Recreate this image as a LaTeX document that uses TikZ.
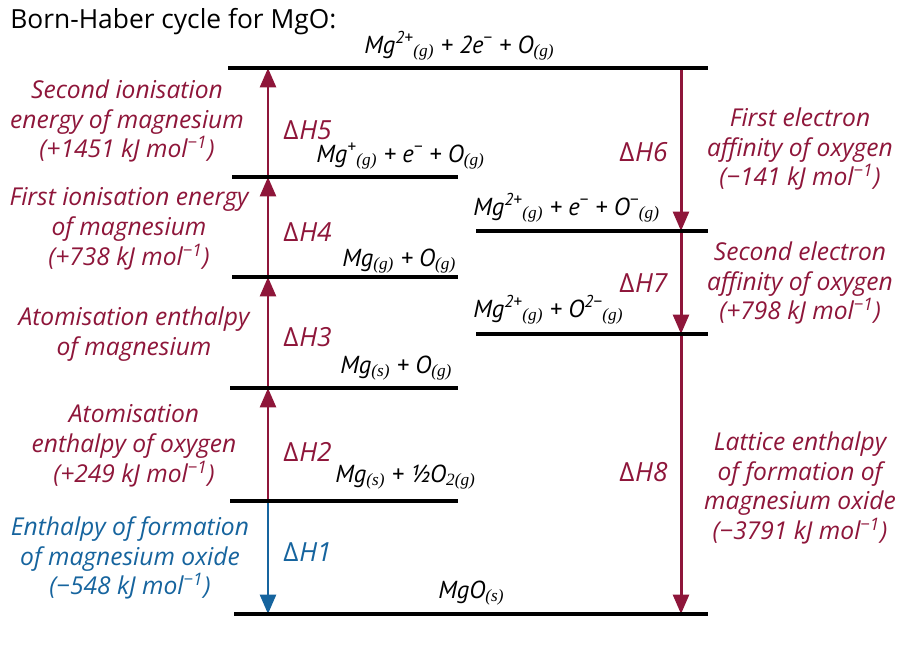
\documentclass[tikz,border=0pt]{standalone}
\usepackage{fontspec}
\setmainfont{Open Sans}
\newfontfamily\subfont{Liberation Serif}
\newfontfamily\specfont{PT Sans}
\usetikzlibrary{arrows.meta}
\definecolor{bhred}{RGB}{142,22,58}
\definecolor{bhblue}{RGB}{22,100,158}
\newcommand{\sps}[1]{\textsuperscript{#1}}
\newcommand{\sbs}[1]{\textsubscript{\subfont\itshape #1}}
\newcommand{\dH}[1]{{\upshape Δ}\kern0.5pt H#1}
\tikzset{
	level/.style={line width=2.3pt},
	stepup/.style={line width=1.7pt, draw=bhred, -{Triangle[width=9pt,length=11pt]}},
	desc/.style={align=center, text=bhred, inner sep=0pt, font=\itshape\fontsize{14}{17}\selectfont},
	species/.style={anchor=base west, inner sep=0pt, font=\specfont\itshape\fontsize{14}{16}\selectfont},
	dhlabel/.style={text=bhred, inner sep=0pt, font=\itshape\fontsize{15}{17}\selectfont},
}
\begin{document}
\begin{tikzpicture}[x=0.02cm, y=-0.02cm, line join=round]
			\useasboundingbox (0,0) rectangle (912,646);
			\node[anchor=base west, inner sep=0pt, font=\fontsize{15}{17}\selectfont] (title) at (10,28) {Born-Haber cycle for MgO:};
			% points on the two arrow columns
			\foreach \n/\y in {1/614,2/501,3/388,4/277,5/177,6/68}
			\coordinate (p\n) at (268,\y);
			\foreach \n/\y in {1/614,6/68,7/231,8/334}
			\coordinate (q\n) at (681,\y);
			% arrows
			\draw[stepup] (p2) -- (p3);
			\draw[stepup] (p3) -- (p4);
			\draw[stepup] (p4) -- (p5);
			\draw[stepup] (p5) -- (p6);
			\draw[stepup, draw=bhblue] (p2) -- (p1);
			\draw[stepup] (q6) -- (q7);
			\draw[stepup] (q7) -- (q8);
			\draw[stepup] (q8) -- (q1);
			% levels
			\draw[level] (228,68)--(708,68);
			\draw[level] (232,177)--(458,177);
			\draw[level] (476,231)--(708,231);
			\draw[level] (232,277)--(458,277);
			\draw[level] (476,334)--(708,334);
			\draw[level] (230,388)--(458,388);
			\draw[level] (230,501)--(458,501);
			\draw[level] (234,614)--(708,614);
			% species
			\node[species] (s6) at (364,53) {Mg\sps{2+}\sbs{(g)} + 2e\sps{−} + O\sbs{(g)}};
			\node[species] (s5) at (316,162) {Mg\sps{+}\sbs{(g)} + e\sps{−} + O\sbs{(g)}};
			\node[species] (s7) at (473,215) {Mg\sps{2+}\sbs{(g)} + e\sps{−} + O\sps{−}\sbs{(g)}};
			\node[species] (s4) at (342,266) {Mg\sbs{(g)} + O\sbs{(g)}};
			\node[species] (s8) at (473,317) {Mg\sps{2+}\sbs{(g)} + O\sps{2−}\sbs{(g)}};
			\node[species] (s3) at (340,373) {Mg\sbs{(s)} + O\sbs{(g)}};
			\node[species] (s2) at (335,482) {Mg\sbs{(s)} + ½O\sbs{2(g)}};
			\node[species] (s1) at (438,598) {MgO\sbs{(s)}};
			% enthalpy changes
			\foreach \n/\y in {5/130,4/232,3/337,2/452}
			\node[dhlabel, anchor=west] (h\n) at (283,\y) {\dH{\n}};
			\node[dhlabel, anchor=west, text=bhblue] (h1) at (283,552) {\dH{1}};
			\foreach \n/\y in {6/152,7/283,8/472}
			\node[dhlabel, anchor=east] (h\n) at (668,\y) {\dH{\n}};
			% descriptions
			\node[desc] (d5) at (127,121) {Second ionisation\\energy of magnesium\\(+1451 kJ mol\sps{−1})};
			\node[desc] (d4) at (129,229) {First ionisation energy\\of magnesium\\(+738 kJ mol\sps{−1})};
			\node[desc] (d3) at (134,334) {Atomisation enthalpy\\of magnesium};
			\node[desc] (d2) at (134,446) {Atomisation\\enthalpy of oxygen\\(+249 kJ mol\sps{−1})};
			\node[desc, text=bhblue] (d1) at (130,558) {Enthalpy of formation\\of magnesium oxide\\(−548 kJ mol\sps{−1})};
			\node[desc] (d6) at (800,149) {First electron\\affinity of oxygen\\(−141 kJ mol\sps{−1})};
			\node[desc] (d7) at (800,283) {Second electron\\affinity of oxygen\\(+798 kJ mol\sps{−1})};
			\node[desc] (d8) at (800,488) {Lattice enthalpy\\of formation of\\magnesium oxide\\(−3791 kJ mol\sps{−1})};
		\end{tikzpicture}
\end{document}
